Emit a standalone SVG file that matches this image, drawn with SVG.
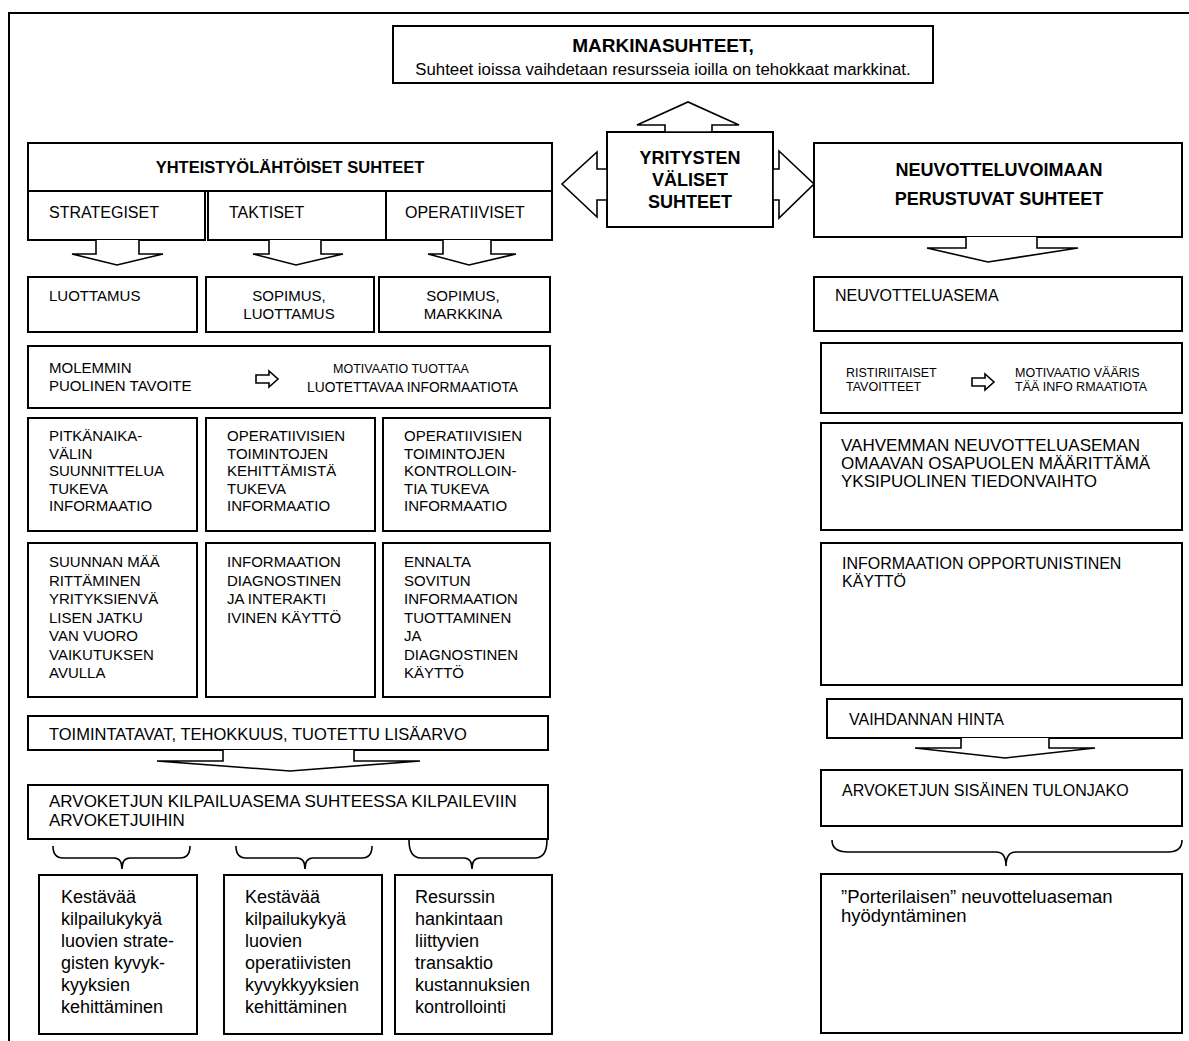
<svg xmlns="http://www.w3.org/2000/svg" width="1189" height="1041" viewBox="0 0 1189 1041">
<style>
.box{fill:#fff;stroke:#000;stroke-width:2}
.arr{fill:#fff;stroke:#000;stroke-width:1.6;stroke-linejoin:miter}
.brace{fill:none;stroke:#000;stroke-width:1.6}
text{font-family:"Liberation Sans",Arial,sans-serif;fill:#000}
.t15{font-size:15px}
.t16{font-size:16px}
.t165{font-size:16.5px}
.t17{font-size:17px}
.t18{font-size:18px}
.b{font-weight:bold}
.c{text-anchor:middle}
</style>
<rect width="1189" height="1041" fill="#fff"/>
<path d="M9,1041 V13 H1189" fill="none" stroke="#000" stroke-width="2"/>

<g id="markkina">
<rect class="box" x="393" y="26" width="540" height="57"/>
<text class="b c" style="font-size:19px" x="663" y="52">MARKINASUHTEET,</text>
<text class="c" style="font-size:16.8px" x="663" y="75">Suhteet ioissa vaihdetaan resursseia ioilla on tehokkaat markkinat.</text>
</g>

<g id="yritysten">
<rect class="box" x="607" y="132" width="166" height="95"/>
<text class="t18 b c" x="690" y="164">YRITYSTEN</text>
<text class="t18 b c" x="690" y="186">VÄLISET</text>
<text class="t18 b c" x="690" y="208">SUHTEET</text>
</g>

<g id="yhteistyo">
<rect class="box" x="28" y="143" width="524" height="48"/>
<text class="t165 b c" x="290" y="173">YHTEISTYÖLÄHTÖISET SUHTEET</text>
<rect class="box" x="28" y="191" width="177" height="49"/>
<rect class="box" x="208" y="191" width="178" height="49"/>
<rect class="box" x="386" y="191" width="166" height="49"/>
<text class="t16" x="49" y="218">STRATEGISET</text>
<text class="t16" x="229" y="218">TAKTISET</text>
<text class="t16" x="405" y="218">OPERATIIVISET</text>
</g>

<g id="neuvotteluvoima">
<rect class="box" x="814" y="143" width="368" height="94"/>
<text class="t18 b c" x="999" y="176">NEUVOTTELUVOIMAAN</text>
<text class="t18 b c" x="999" y="205">PERUSTUVAT SUHTEET</text>
</g>

<g id="luottamus">
<rect class="box" x="28" y="277" width="169" height="55"/>
<text class="t15" x="49" y="301">LUOTTAMUS</text>
</g>
<g id="sopimus-luottamus">
<rect class="box" x="206" y="277" width="168" height="55"/>
<text class="t15 c" x="289" y="301">SOPIMUS,</text>
<text class="t15 c" x="289" y="319">LUOTTAMUS</text>
</g>
<g id="sopimus-markkina">
<rect class="box" x="379" y="277" width="171" height="55"/>
<text class="t15 c" x="463" y="301">SOPIMUS,</text>
<text class="t15 c" x="463" y="319">MARKKINA</text>
</g>

<g id="molemmin">
<rect class="box" x="28" y="346" width="522" height="62"/>
<text class="t15" x="49" y="373">MOLEMMIN</text>
<text class="t15" x="49" y="391">PUOLINEN TAVOITE</text>
<polygon class="arr" points="256,375 269,375 269,371 278,379 269,387 269,383 256,383"/>
<text style="font-size:12.5px" x="333" y="373">MOTIVAATIO TUOTTAA</text>
<text style="font-size:13.8px" x="307" y="392">LUOTETTAVAA INFORMAATIOTA</text>
</g>

<g id="pitkanaika">
<rect class="box" x="28" y="418" width="169" height="113"/>
<text class="t15" x="49" y="441">PITKÄNAIKA-</text>
<text class="t15" x="49" y="458.5">VÄLIN</text>
<text class="t15" x="49" y="476">SUUNNITTELUA</text>
<text class="t15" x="49" y="493.5">TUKEVA</text>
<text class="t15" x="49" y="511">INFORMAATIO</text>
</g>
<g id="kehittamista">
<rect class="box" x="206" y="418" width="169" height="113"/>
<text class="t15" x="227" y="441">OPERATIIVISIEN</text>
<text class="t15" x="227" y="458.5">TOIMINTOJEN</text>
<text class="t15" x="227" y="476">KEHITTÄMISTÄ</text>
<text class="t15" x="227" y="493.5">TUKEVA</text>
<text class="t15" x="227" y="511">INFORMAATIO</text>
</g>
<g id="kontrollointia">
<rect class="box" x="383" y="418" width="167" height="113"/>
<text class="t15" x="404" y="441">OPERATIIVISIEN</text>
<text class="t15" x="404" y="458.5">TOIMINTOJEN</text>
<text class="t15" x="404" y="476">KONTROLLOIN-</text>
<text class="t15" x="404" y="493.5">TIA TUKEVA</text>
<text class="t15" x="404" y="511">INFORMAATIO</text>
</g>

<g id="suunnan">
<rect class="box" x="28" y="543" width="169" height="154"/>
<text class="t15" x="49" y="567">SUUNNAN MÄÄ</text>
<text class="t15" x="49" y="585.5">RITTÄMINEN</text>
<text class="t15" x="49" y="604">YRITYKSIENVÄ</text>
<text class="t15" x="49" y="622.5">LISEN JATKU</text>
<text class="t15" x="49" y="641">VAN VUORO</text>
<text class="t15" x="49" y="659.5">VAIKUTUKSEN</text>
<text class="t15" x="49" y="678">AVULLA</text>
</g>
<g id="diagnostinen">
<rect class="box" x="206" y="543" width="169" height="154"/>
<text class="t15" x="227" y="567">INFORMAATION</text>
<text class="t15" x="227" y="585.5">DIAGNOSTINEN</text>
<text class="t15" x="227" y="604">JA INTERAKTI</text>
<text class="t15" x="227" y="622.5">IVINEN KÄYTTÖ</text>
</g>
<g id="ennalta">
<rect class="box" x="383" y="543" width="167" height="154"/>
<text class="t15" x="404" y="567">ENNALTA</text>
<text class="t15" x="404" y="585.5">SOVITUN</text>
<text class="t15" x="404" y="604">INFORMAATION</text>
<text class="t15" x="404" y="622.5">TUOTTAMINEN</text>
<text class="t15" x="404" y="641">JA</text>
<text class="t15" x="404" y="659.5">DIAGNOSTINEN</text>
<text class="t15" x="404" y="678">KÄYTTÖ</text>
</g>

<g id="toimintatavat">
<rect class="box" x="28" y="716" width="520" height="34"/>
<text class="t165" x="49" y="740">TOIMINTATAVAT, TEHOKKUUS, TUOTETTU  LISÄARVO</text>
</g>
<g id="kilpailuasema">
<rect class="box" x="28" y="785" width="520" height="54"/>
<text class="t17" x="49" y="807">ARVOKETJUN KILPAILUASEMA SUHTEESSA KILPAILEVIIN</text>
<text class="t17" x="49" y="826">ARVOKETJUIHIN</text>
</g>

<g id="strategiset-kyvykkyydet">
<rect class="box" x="39" y="875" width="158" height="159"/>
<text class="t18" x="61" y="903">Kestävää</text>
<text class="t18" x="61" y="925">kilpailukykyä</text>
<text class="t18" x="61" y="947">luovien  strate-</text>
<text class="t18" x="61" y="969">gisten kyvyk-</text>
<text class="t18" x="61" y="991">kyyksien</text>
<text class="t18" x="61" y="1013">kehittäminen</text>
</g>
<g id="operatiiviset-kyvykkyydet">
<rect class="box" x="224" y="875" width="158" height="159"/>
<text class="t18" x="245" y="903">Kestävää</text>
<text class="t18" x="245" y="925">kilpailukykyä</text>
<text class="t18" x="245" y="947">luovien</text>
<text class="t18" x="245" y="969">operatiivisten</text>
<text class="t18" x="245" y="991">kyvykkyyksien</text>
<text class="t18" x="245" y="1013">kehittäminen</text>
</g>
<g id="transaktiokustannukset">
<rect class="box" x="395" y="875" width="157" height="159"/>
<text class="t18" x="415" y="903">Resurssin</text>
<text class="t18" x="415" y="925">hankintaan</text>
<text class="t18" x="415" y="947">liittyvien</text>
<text class="t18" x="415" y="969">transaktio</text>
<text class="t18" x="415" y="991">kustannuksien</text>
<text class="t18" x="415" y="1013">kontrollointi</text>
</g>

<g id="neuvotteluasema">
<rect class="box" x="814" y="277" width="368" height="54"/>
<text class="t16" x="835" y="301">NEUVOTTELUASEMA</text>
</g>
<g id="ristiriitaiset">
<rect class="box" x="821" y="343" width="361" height="70"/>
<text style="font-size:12.5px" x="846" y="377">RISTIRIITAISET</text>
<text style="font-size:12.5px" x="846" y="391">TAVOITTEET</text>
<polygon class="arr" points="972,378 985,378 985,374 994,382 985,390 985,386 972,386"/>
<text style="font-size:12.5px" x="1015" y="377">MOTIVAATIO VÄÄRIS</text>
<text style="font-size:12.5px" x="1015" y="391">TÄÄ INFO RMAATIOTA</text>
</g>
<g id="vahvemman">
<rect class="box" x="821" y="423" width="361" height="107"/>
<text style="font-size:17px" x="841" y="451">VAHVEMMAN NEUVOTTELUASEMAN</text>
<text style="font-size:17px" x="841" y="469">OMAAVAN OSAPUOLEN MÄÄRITTÄMÄ</text>
<text style="font-size:17px" x="841" y="487">YKSIPUOLINEN TIEDONVAIHTO</text>
</g>
<g id="opportunistinen">
<rect class="box" x="821" y="543" width="361" height="142"/>
<text class="t16" x="842" y="569">INFORMAATION OPPORTUNISTINEN</text>
<text class="t16" x="842" y="587">KÄYTTÖ</text>
</g>
<g id="vaihdannan-hinta">
<rect class="box" x="827" y="699" width="355" height="39"/>
<text class="t16" x="849" y="725">VAIHDANNAN HINTA</text>
</g>
<g id="tulonjako">
<rect class="box" x="821" y="770" width="361" height="56"/>
<text class="t16" x="842" y="796">ARVOKETJUN SISÄINEN TULONJAKO</text>
</g>
<g id="porterilainen">
<rect class="box" x="821" y="874" width="361" height="159"/>
<text style="font-size:18.5px" x="841" y="903">”Porterilaisen” neuvotteluaseman</text>
<text style="font-size:18.5px" x="841" y="922">hyödyntäminen</text>
</g>

<g id="connectors">
<polygon class="arr" points="665,132 665,125 637,125 688,102 739,125 712,125 712,132"/>
<polygon class="arr" points="607,169 597,169 597,152 562,184 597,217 597,200 607,200"/>
<polygon class="arr" points="773,169 779,169 779,151 814,184 779,218 779,200 773,200"/>
<polyline class="arr" points="96,240 96,254 72,254 117,265 163,254 139,254 139,240"/>
<polyline class="arr" points="269,240 269,254 253,254 296,265 343,254 321,254 321,240"/>
<polyline class="arr" points="443,240 443,254 428,254 469,265 516,254 491,254 491,240"/>
<polyline class="arr" points="966,237 966,248 927,248 988,262 1078,248 1037,248 1037,237"/>
<polyline class="arr" points="223,750 223,761 157,761 290,771 420,761 354,761 354,750"/>
<polyline class="arr" points="961,738 961,748 915,748 1005,758 1095,748 1049,748 1049,738"/>
<path class="brace" d="M53,846 Q53,858 63,858 L114,858 Q122,858 122,869 Q122,858 130,858 L180,858 Q190,858 190,846"/>
<path class="brace" d="M236,846 Q236,858 246,858 L297,858 Q305,858 305,869 Q305,858 313,858 L362,858 Q372,858 372,846"/>
<path class="brace" d="M409,840 Q409,858 421,858 L464,858 Q472,858 472,869 Q472,858 480,858 L535,858 Q547,858 547,840"/>
<path class="brace" d="M832,840 Q832,852 848,852 L996,852 Q1006,852 1006,866 Q1006,852 1016,852 L1168,852 Q1182,852 1182,840"/>
</g>
</svg>
